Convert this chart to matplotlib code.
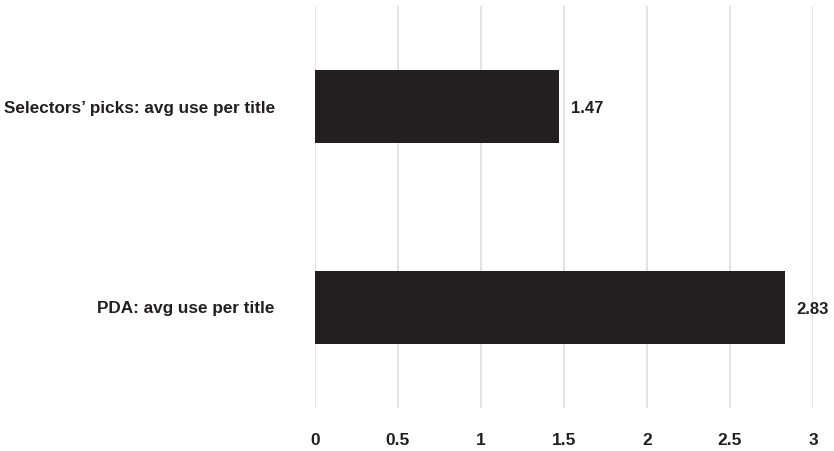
import matplotlib.pyplot as plt
from matplotlib import font_manager

categories = ["Selectors\u2019 picks: avg use per title", "PDA: avg use per title"]
values = [1.47, 2.83]
ticks = [0, 0.5, 1, 1.5, 2, 2.5, 3]
tick_labels = ["0", "0.5", "1", "1.5", "2", "2.5", "3"]

names = {f.name for f in font_manager.fontManager.ttflist}
family = "Liberation Sans Narrow" if "Liberation Sans Narrow" in names else "Liberation Sans"
plt.rcParams["font.family"] = [family, "DejaVu Sans"]
plt.rcParams["font.weight"] = "bold"

fig = plt.figure(figsize=(8.34, 4.51), dpi=100)
ax = fig.add_axes([315 / 834, 1 - 408 / 451, 498 / 834, 402 / 451])

ink = "#231f20"
ax.barh(range(len(values)), values, height=0.36, color=ink, zorder=2)
for i, v in enumerate(values):
    ax.text(v + 0.07, i + 0.01, "{:.2f}".format(v), va="center", ha="left",
            fontsize=12, fontweight="bold", color=ink)

ax.set_xlim(0, 3)
ax.set_ylim(1.5, -0.5)
ax.set_xticks(ticks)
ax.set_xticklabels(tick_labels)
ax.set_yticks(range(len(categories)))
ax.set_yticklabels(categories)
ax.tick_params(axis="x", length=0, pad=18, labelsize=12.5, labelcolor=ink)
ax.tick_params(axis="y", length=0, pad=29, labelsize=12.3, labelcolor=ink)
for lab in ax.get_xticklabels() + ax.get_yticklabels():
    lab.set_fontweight("bold")

ax.grid(axis="x", color="#e0e0e0", linewidth=1.3, zorder=0)
ax.set_axisbelow(True)
for s in ax.spines.values():
    s.set_visible(False)

fig.savefig("out.png", dpi=100)
